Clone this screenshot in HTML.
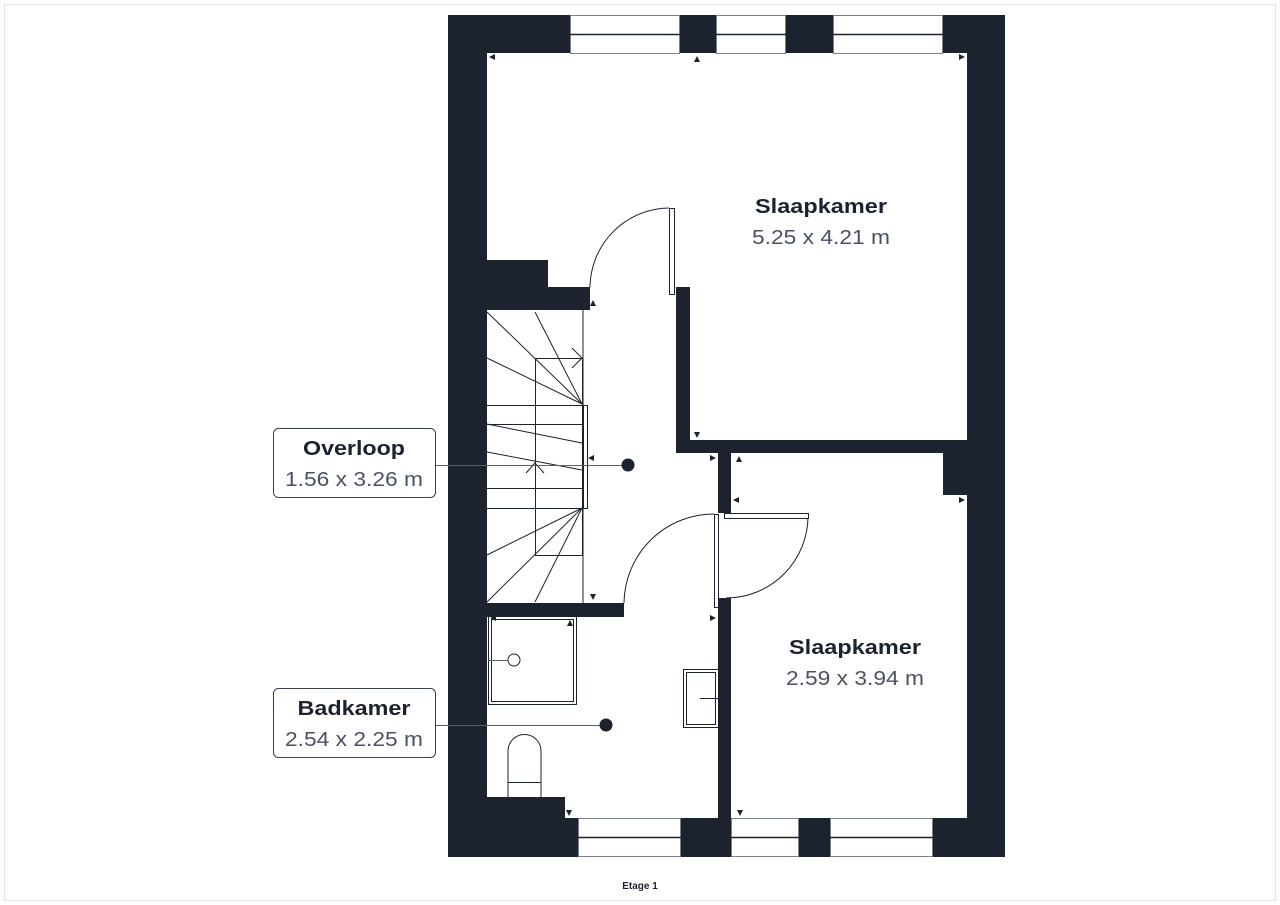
<!DOCTYPE html>
<html><head><meta charset="utf-8"><style>html,body{margin:0;padding:0;background:#fff}svg{display:block}</style></head>
<body>
<svg width="1280" height="905" viewBox="0 0 1280 905" xmlns="http://www.w3.org/2000/svg" font-family="Liberation Sans, sans-serif">
<rect x="4.5" y="4.5" width="1271" height="896" fill="#fff" stroke="#e2e2e2"/>
<g fill="#1c222e">
<rect x="448" y="15" width="557" height="842"/>
</g>
<rect x="487" y="53" width="480" height="765" fill="#fff"/>
<g fill="#1c222e">
<rect x="487" y="260" width="61" height="28"/>
<rect x="487" y="287" width="103" height="23"/>
<rect x="676" y="287" width="14" height="166"/>
<rect x="676" y="440" width="291" height="13"/>
<rect x="718" y="453" width="13" height="60"/>
<rect x="718" y="598" width="13" height="220"/>
<rect x="943" y="453" width="24" height="42"/>
<rect x="487" y="603" width="137" height="14"/>
<rect x="487" y="797" width="78" height="21"/>
</g>
<!-- windows -->
<g fill="#fff" stroke="#7a808a" stroke-width="1">
<rect x="570.5" y="15.5" width="109" height="38"/>
<rect x="716.5" y="15.5" width="69" height="38"/>
<rect x="833.5" y="15.5" width="109" height="38"/>
<rect x="578.5" y="818.5" width="102" height="38"/>
<rect x="731.5" y="818.5" width="67" height="38"/>
<rect x="830.5" y="818.5" width="102" height="38"/>
</g>
<g stroke="#1c222e" stroke-width="1.5">
<line x1="570" y1="34.5" x2="680" y2="34.5"/>
<line x1="716" y1="34.5" x2="786" y2="34.5"/>
<line x1="833" y1="34.5" x2="943" y2="34.5"/>
<line x1="578" y1="837.5" x2="681" y2="837.5"/>
<line x1="731" y1="837.5" x2="799" y2="837.5"/>
<line x1="830" y1="837.5" x2="933" y2="837.5"/>
</g>
<!-- doors -->
<g fill="none" stroke="#1c222e" stroke-width="1">
<path d="M590 287 A80 80 0 0 1 669 208"/>
<rect x="669.5" y="208.5" width="5" height="86" fill="#fff"/>
<path d="M624 603 A90 90 0 0 1 714 514"/>
<rect x="714.5" y="514.5" width="4" height="93" fill="#fff"/>
<path d="M808 516 A82 82 0 0 1 726 598"/>
<rect x="724.5" y="513.5" width="84" height="5" fill="#fff"/>
</g>
<!-- stairs -->
<g fill="none" stroke="#1c222e" stroke-width="1">
<line x1="583" y1="310" x2="583" y2="603"/>
<rect x="583.5" y="405.5" width="4" height="103" fill="#fff"/>
<rect x="535.5" y="358.5" width="47" height="197"/>
<line x1="487" y1="405.5" x2="583" y2="405.5"/>
<line x1="487" y1="424.5" x2="583" y2="424.5"/>
<line x1="487" y1="488.5" x2="583" y2="488.5"/>
<line x1="487" y1="508.5" x2="583" y2="508.5"/>
<line x1="487" y1="312" x2="582" y2="404"/>
<line x1="535" y1="312" x2="582" y2="404"/>
<line x1="487" y1="358" x2="582" y2="404"/>
<line x1="487" y1="555" x2="582" y2="508"/>
<line x1="487" y1="602" x2="582" y2="508"/>
<line x1="535" y1="602" x2="582" y2="508"/>
<line x1="487" y1="424" x2="582" y2="443"/>
<line x1="487" y1="452" x2="582" y2="470"/>
<polyline points="572,348 582,358 572,368"/>
<polyline points="526,473 535,463 544,473"/>
</g>
<!-- bathroom fixtures -->
<g fill="none" stroke="#1c222e" stroke-width="1">
<rect x="488.5" y="616.5" width="88" height="88"/>
<rect x="491.5" y="619.5" width="82" height="82"/>
<circle cx="514" cy="660" r="6"/>
<rect x="683.5" y="669.5" width="35" height="58"/>
<rect x="686.5" y="672.5" width="29" height="52"/>
<line x1="700" y1="698.5" x2="718" y2="698.5"/>
<path d="M508 797 V751 A16.5 16.5 0 0 1 541 751 V797"/>
<line x1="508" y1="782.5" x2="541" y2="782.5"/>
</g>
<g stroke="#5a606a" stroke-width="1">
<line x1="488" y1="660.5" x2="508" y2="660.5"/>
<line x1="436" y1="465.5" x2="628" y2="465.5"/>
<line x1="436" y1="725.5" x2="606" y2="725.5"/>
</g>
<circle cx="628" cy="465" r="6.5" fill="#1c222e"/>
<circle cx="606" cy="725" r="6.5" fill="#1c222e"/>
<!-- small markers -->
<g fill="#1c222e">
<path d="M489 57 l6 -3 v6z"/><path d="M965 57 l-6 -3 v6z"/><path d="M697 56 l-3 6 h6z"/>
<path d="M593 300 l-3 6 h6z"/><path d="M593 600 l-3 -6 h6z"/>
<path d="M588 458 l6 -3 v6z"/><path d="M697 438 l-3 -6 h6z"/>
<path d="M716 458 l-6 -3 v6z"/><path d="M739 456 l-3 6 h6z"/>
<path d="M733 500 l6 -3 v6z"/><path d="M965 500 l-6 -3 v6z"/>
<path d="M716 618 l-6 -3 v6z"/><path d="M740 816 l-3 -6 h6z"/>
<path d="M569 816 l-3 -6 h6z"/><path d="M490 618 l6 -3 v6z"/><path d="M570 620 l-3 6 h6z"/>
</g>
<!-- labels -->
<g fill="#fff" stroke="#3a404a" stroke-width="1">
<rect x="273.5" y="428.5" width="162" height="69" rx="5"/>
<rect x="273.5" y="688.5" width="162" height="69" rx="5"/>
</g>
<g text-anchor="middle">
<text x="354" y="455" font-size="20" font-weight="bold" fill="#1c222e" textLength="102" lengthAdjust="spacingAndGlyphs">Overloop</text>
<text x="354" y="486" font-size="20" fill="#4a5261" textLength="138" lengthAdjust="spacingAndGlyphs">1.56 x 3.26 m</text>
<text x="354" y="715" font-size="20" font-weight="bold" fill="#1c222e" textLength="113" lengthAdjust="spacingAndGlyphs">Badkamer</text>
<text x="354" y="746" font-size="20" fill="#4a5261" textLength="138" lengthAdjust="spacingAndGlyphs">2.54 x 2.25 m</text>
<text x="821" y="213" font-size="20" font-weight="bold" fill="#1c222e" textLength="132" lengthAdjust="spacingAndGlyphs">Slaapkamer</text>
<text x="821" y="244" font-size="20" fill="#4a5261" textLength="138" lengthAdjust="spacingAndGlyphs">5.25 x 4.21 m</text>
<text x="855" y="654" font-size="20" font-weight="bold" fill="#1c222e" textLength="132" lengthAdjust="spacingAndGlyphs">Slaapkamer</text>
<text x="855" y="685" font-size="20" fill="#4a5261" textLength="138" lengthAdjust="spacingAndGlyphs">2.59 x 3.94 m</text>
<text x="640" y="889" font-size="10" font-weight="bold" fill="#1c222e">Etage 1</text>
</g>
</svg>
</body></html>
